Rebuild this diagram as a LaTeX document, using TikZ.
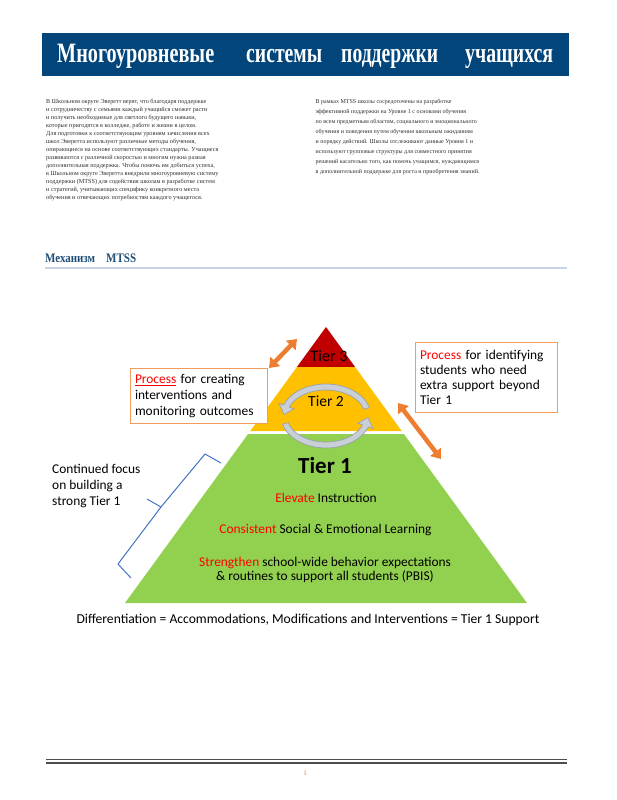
\documentclass[tikz,border=0pt]{standalone}
\usepackage{fontspec}
\usepackage{graphicx}
\setmainfont{Liberation Serif}
\newfontfamily\calfont{Carlito}
\usetikzlibrary{arrows.meta}
\definecolor{hdrblue}{HTML}{02457A}
\definecolor{headblue}{HTML}{1F4E79}
\definecolor{rulecol}{HTML}{C8D4E2}
\definecolor{bodygray}{HTML}{2E2E2E}
\definecolor{tierthree}{HTML}{C00000}
\definecolor{tiertwo}{HTML}{FFC000}
\definecolor{tierone}{HTML}{92D050}
\definecolor{orng}{HTML}{ED7D31}
\definecolor{oborder}{HTML}{F19C5B}
\definecolor{cyclefill}{HTML}{C9CFD7}
\definecolor{cycledraw}{HTML}{9BA1A9}
\definecolor{bracecol}{HTML}{4472C4}
\definecolor{footcol}{HTML}{4D4D4D}
\definecolor{txtred}{HTML}{FF0000}
\tikzset{
  titleword/.style={anchor=base west, inner sep=0, text=white, font=\bfseries\fontsize{28}{28}\selectfont},
  headword/.style={anchor=base west, inner sep=0, text=headblue, font=\bfseries\fontsize{13}{13}\selectfont},
  bodytext/.style={anchor=north west, inner sep=0, align=left, text=bodygray},
  obox/.style={draw=oborder, fill=white, line width=1pt, align=left, anchor=north west, inner xsep=4pt, inner ysep=0pt},
  caltext/.style={font=\calfont\fontsize{13.4}{15.8}\selectfont, inner sep=0},
  orangearrow/.style={draw=orng, line width=4.5pt, {Triangle[length=9pt,width=13pt]}-{Triangle[length=9pt,width=13pt]}},
  cyclearrow/.style={fill=cyclefill, draw=cycledraw, line width=0.7pt},
  footline/.style={draw=footcol, line width=1.2pt}
}
\begin{document}
\begin{tikzpicture}[x=1pt,y=-1pt]
\useasboundingbox (0,0) rectangle (616,800);
\fill[white] (0,0) rectangle (616,800);
% header bar
\fill[hdrblue] (42,33) rectangle (569,76);
\node[titleword] (t1) at (57,62.8) {\resizebox{157pt}{\height}{Многоуровневые}};
\node[titleword] (t2) at (246,62.8) {\resizebox{76pt}{\height}{системы}};
\node[titleword] (t3) at (341,62.8) {\resizebox{97pt}{\height}{поддержки}};
\node[titleword] (t4) at (465,62.8) {\resizebox{88pt}{\height}{учащихся}};
% body text
\node[bodytext, font=\fontsize{6.2}{8}\selectfont] (lcol) at (46,99) {%
В Школьном округе Эверетт верят, что благодаря поддержке\\
и сотрудничеству с семьями каждый учащийся сможет расти\\
и получить необходимые для светлого будущего навыки,\\
которые пригодятся в колледже, работе и жизни в целом.\\
Для подготовки к соответствующим уровням зачисления всех\\
школ Эверетта используют различные методы обучения,\\
опирающиеся на основе соответствующих стандарты. Учащиеся\\
развиваются с различной скоростью и многим нужна разная\\
дополнительная поддержка. Чтобы помочь им добиться успеха,\\
в Школьном округе Эверетта внедрили многоуровневую систему\\
поддержки (MTSS) для содействия школам в разработке систем\\
и стратегий, учитывающих специфику конкретного места\\
обучения и отвечающих потребностям каждого учащегося.};
\node[bodytext, font=\fontsize{6}{10}\selectfont] (rcol) at (315.5,99) {%
В рамках MTSS школы сосредоточены на разработке\\
эффективной поддержки на Уровне 1 с основами обучения\\
по всем предметным областям, социального и эмоционального\\
обучения и поведения путем обучения школьным ожиданиям\\
и порядку действий. Школы отслеживают данные Уровня 1 и\\
используют групповые структуры для совместного принятия\\
решений касательно того, как помочь учащимся, нуждающимся\\
в дополнительной поддержке для роста и приобретения знаний.};
% section heading
\node[headword] (h1) at (45,262.4) {\resizebox{50pt}{\height}{Механизм}};
\node[headword] (h2) at (106,262.4) {\resizebox{30pt}{\height}{MTSS}};
\draw[draw=rulecol, line width=2pt] (45,267.8) -- (567,267.8);
% pyramid
\fill[tierthree] (326,327) -- (296.9,367) -- (355.1,367) -- cycle;
\fill[tiertwo] (296.9,367) -- (355.1,367) -- (401.7,431) -- (250.3,431) -- cycle;
\fill[tierone] (248.1,434) -- (403.9,434) -- (527,603) -- (125,603) -- cycle;
\node[font=\calfont\fontsize{16}{16}\selectfont, inner sep=0] (tier3) at (329,356) {Tier 3};
\node[font=\calfont\fontsize{15.5}{15.5}\selectfont, inner sep=0] (tier2) at (326,401) {Tier 2};
% cycle arrows
\filldraw[cyclearrow]
  plot[domain=15:160, samples=40] ({326+45*cos(\x)},{416-32*sin(\x)})
  -- ({326+50*cos(160)},{416-37*sin(160)})
  -- ({326+42*cos(177)},{416-29*sin(177)})
  -- ({326+34*cos(160)},{416-21*sin(160)})
  -- plot[domain=160:15, samples=40] ({326+39*cos(\x)},{416-26*sin(\x)})
  -- cycle;
\filldraw[cyclearrow]
  plot[domain=195:340, samples=40] ({326+45*cos(\x)},{416-32*sin(\x)})
  -- ({326+50*cos(340)},{416-37*sin(340)})
  -- ({326+42*cos(357)},{416-29*sin(357)})
  -- ({326+34*cos(340)},{416-21*sin(340)})
  -- plot[domain=340:195, samples=40] ({326+39*cos(\x)},{416-26*sin(\x)})
  -- cycle;
% tier 1 texts
\node[font=\calfont\bfseries\fontsize{23}{23}\selectfont, inner sep=0] (tier1) at (325,466) {Tier 1};
\node[caltext] (elev) at (326,498) {\textcolor{txtred}{Elevate} Instruction};
\node[caltext] (cons) at (325.5,530) {\textcolor{txtred}{Consistent} Social \& Emotional Learning};
\node[caltext, align=center, font=\calfont\fontsize{13.4}{14.3}\selectfont] (stren) at (325,570) {\textcolor{txtred}{Strengthen} school-wide behavior expectations\\\& routines to support all students (PBIS)};
% boxes
\node[obox, minimum width=137pt, minimum height=55pt, text width=128pt, font=\calfont\fontsize{13.4}{16}\selectfont] (lbox) at (130,368) {\textcolor{txtred}{\underline{Process}} for creating\\interventions and\\monitoring outcomes};
\node[obox, minimum width=142pt, minimum height=70pt, text width=133pt, font=\calfont\fontsize{13.4}{15}\selectfont] (rbox) at (415,342) {\textcolor{txtred}{Process} for identifying\\students who need\\extra support beyond\\Tier 1};
% orange double arrows
\coordinate (oa1) at (269,368);
\coordinate (oa2) at (297,339);
\draw[orangearrow] (oa1) -- (oa2);
\coordinate (ob1) at (398,403);
\coordinate (ob2) at (441,459);
\draw[orangearrow] (ob1) -- (ob2);
% brace
\coordinate (br1) at (221,463);
\coordinate (br2) at (205,454);
\coordinate (brm) at (161,507);
\coordinate (brt) at (147,499);
\coordinate (br3) at (118,564);
\coordinate (br4) at (131,578);
\draw[draw=bracecol, line width=1pt, line join=round] (br1) -- (br2) -- (brm) -- (br3) -- (br4);
\draw[draw=bracecol, line width=1pt] (brm) -- (brt);
\node[caltext, anchor=north west, align=left] (cf) at (52,464) {Continued focus\\on building a\\strong Tier 1};
% bottom line
\node[caltext, font=\calfont\fontsize{13.6}{13.6}\selectfont] (diff) at (308,620) {Differentiation = Accommodations, Modifications and Interventions = Tier 1 Support};
% footer
\draw[footline] (46,759.6) -- (567,759.6);
\draw[footline] (46,763) -- (567,763);
\node[inner sep=0, text=orng, font=\fontsize{7}{7}\selectfont] (pg) at (305,773) {1};
\end{tikzpicture}
\end{document}
